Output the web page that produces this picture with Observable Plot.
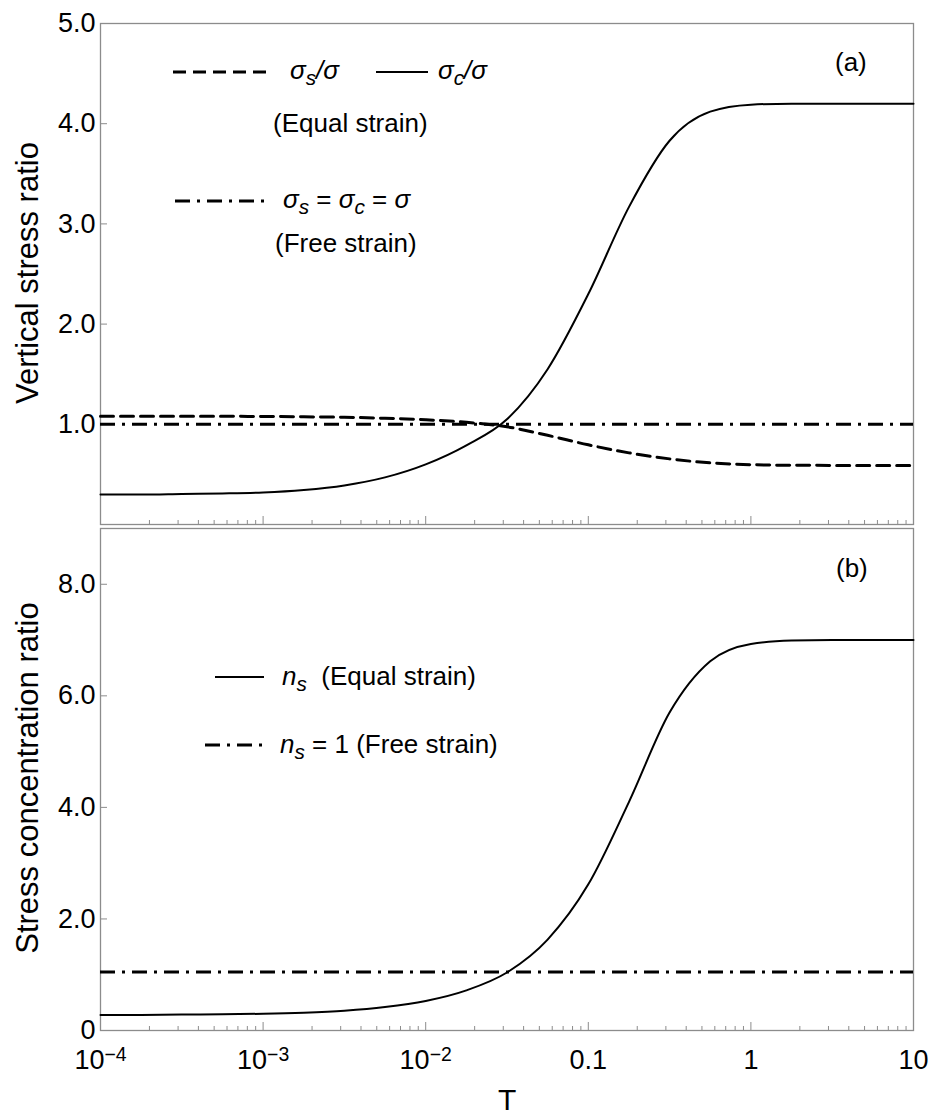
<!DOCTYPE html>
<html><head><meta charset="utf-8">
<script src="https://cdn.jsdelivr.net/npm/d3@7"></script>
<script src="https://cdn.jsdelivr.net/npm/@observablehq/plot@0.6"></script>
<style>
body{margin:0;background:#fff;font-family:"Liberation Sans",Arial,sans-serif;color:#000;}
#wrap{position:relative;width:936px;height:1115px;overflow:hidden;background:#fff;}
.panel{position:absolute;left:0;}
.txt{position:absolute;white-space:nowrap;font-size:26px;line-height:1;transform:translateY(-50%);}
.sym{font-style:italic;}
.sub{font-style:italic;font-size:0.8em;position:relative;top:0.28em;}
.ytitle{position:absolute;white-space:nowrap;font-size:31px;line-height:1;transform-origin:0 0;}
svg.legline{position:absolute;overflow:visible;}
</style></head><body><div id="wrap"></div>
<script>
// ---- data ----
const T = [0.0001, 0.000178, 0.000316, 0.000562, 0.001, 0.00178, 0.00316, 0.00562, 0.01, 0.0178, 0.0316,
           0.0562, 0.1, 0.178, 0.316, 0.562, 1, 1.78, 3.16, 5.62, 10];
// panel (a): equal strain, sigma_c / sigma
const sigmaCRatio = [0.30, 0.30, 0.305, 0.31, 0.32, 0.345, 0.39, 0.47, 0.60, 0.79, 1.05,
                     1.55, 2.30, 3.17, 3.83, 4.12, 4.19, 4.20, 4.20, 4.20, 4.20];
// panel (a): equal strain, sigma_s / sigma
const sigmaSRatio = [1.08, 1.08, 1.08, 1.08, 1.078, 1.075, 1.07, 1.06, 1.045, 1.02, 0.975,
                     0.89, 0.795, 0.715, 0.655, 0.615, 0.597, 0.591, 0.59, 0.59, 0.59];
// panel (a): free strain sigma_s = sigma_c = sigma
const freeStrainA = [1.0];
// panel (b): stress concentration ratio n_s (equal strain)
const nsEqual = [0.28, 0.28, 0.285, 0.29, 0.30, 0.32, 0.355, 0.42, 0.53, 0.72, 1.04,
                 1.63, 2.62, 4.10, 5.70, 6.62, 6.93, 6.99, 7.0, 7.0, 7.0];
// panel (b): free strain n_s = 1
const freeStrainB = [1.05];

// ticks and labels
const xMajor = [1e-4, 1e-3, 1e-2, 1e-1, 1, 10];
const xMajorLabels = ["10^−4", "10^−3", "10^−2", "0.1", "1", "10"];
const xMinor = [];
for (const d of [1e-4, 1e-3, 1e-2, 1e-1, 1]) for (let k = 2; k <= 9; k++) xMinor.push(k * d);
const yTicksA = [1, 2, 3, 4, 5];
const yTicksALabels = ["1.0", "2.0", "3.0", "4.0", "5.0"];
const yTicksB = [0, 2, 4, 6, 8];
const yTicksBLabels = ["0", "2.0", "4.0", "6.0", "8.0"];

const rowsA_c = T.map((t, i) => ({T: t, v: sigmaCRatio[i]}));
const rowsA_s = T.map((t, i) => ({T: t, v: sigmaSRatio[i]}));
const rowsB = T.map((t, i) => ({T: t, v: nsEqual[i]}));

const GRAY = "#8c8c8c";
const DASH = "13,7";
const DASHDOT = "15,7,3,7";
const FONT = "'Liberation Sans', Arial, sans-serif";

const common = {
  width: 936,
  marginLeft: 100,
  marginRight: 23,
  x: {type: "log", domain: [1e-4, 10], label: null},
  style: {background: "transparent", fontFamily: FONT, fontSize: "27px", color: "#000", overflow: "visible"}
};

const wrap = document.getElementById("wrap");

const pa = Plot.plot({
  ...common,
  height: 528, marginTop: 23, marginBottom: 4,
  y: {domain: [0, 5], label: null},
  marks: [
    Plot.frame({stroke: GRAY, strokeWidth: 1.3}),
    Plot.axisY({ticks: yTicksA, tickSize: -7, stroke: GRAY, tickFormat: () => "", label: null}),
    Plot.axisY({ticks: yTicksA, tickSize: 0, tickPadding: 5, tickFormat: (d) => yTicksALabels[yTicksA.indexOf(d)], fontSize: 27, label: null}),
    Plot.axisX({ticks: xMajor, tickSize: -8, stroke: GRAY, tickFormat: () => "", label: null}),
    Plot.axisX({ticks: xMinor, tickSize: -4, stroke: GRAY, tickFormat: () => "", label: null}),
    Plot.ruleY(freeStrainA, {stroke: "#000", strokeWidth: 3, strokeDasharray: DASHDOT}),
    Plot.line(rowsA_s, {x: "T", y: "v", stroke: "#000", strokeWidth: 3, strokeDasharray: DASH, curve: "monotone-x"}),
    Plot.line(rowsA_c, {x: "T", y: "v", stroke: "#000", strokeWidth: 2, curve: "monotone-x"})
  ]
});
pa.classList.add("panel");
pa.style.top = "0px";
wrap.appendChild(pa);

const pb = Plot.plot({
  ...common,
  height: 591, marginTop: 4, marginBottom: 85,
  y: {domain: [0, 9], label: null},
  marks: [
    Plot.frame({stroke: GRAY, strokeWidth: 1.3}),
    Plot.axisY({ticks: yTicksB, tickSize: -7, stroke: GRAY, tickFormat: () => "", label: null}),
    Plot.axisY({ticks: yTicksB, tickSize: 0, tickPadding: 5, tickFormat: (d) => yTicksBLabels[yTicksB.indexOf(d)], fontSize: 27, label: null}),
    Plot.axisX({ticks: xMajor, tickSize: -8, stroke: GRAY, tickFormat: () => "", label: null}),
    Plot.axisX({ticks: xMinor, tickSize: -4, stroke: GRAY, tickFormat: () => "", label: null}),
    Plot.axisX({ticks: xMajor, tickSize: 0, tickPadding: 19, tickFormat: (d) => xMajorLabels[xMajor.indexOf(d)], fontSize: 27, label: null}),
    Plot.ruleY(freeStrainB, {stroke: "#000", strokeWidth: 3, strokeDasharray: DASHDOT}),
    Plot.line(rowsB, {x: "T", y: "v", stroke: "#000", strokeWidth: 2, curve: "monotone-x"})
  ]
});
pb.classList.add("panel");
pb.style.top = "524px";
wrap.appendChild(pb);

// superscripts for power-of-ten labels
pb.querySelectorAll("text").forEach((t) => {
  const s = t.textContent;
  const m = /^10\^(.+)$/.exec(s);
  if (m) {
    t.textContent = "10";
    const ts = document.createElementNS("http://www.w3.org/2000/svg", "tspan");
    ts.setAttribute("dy", "-0.38em");
    ts.setAttribute("font-size", "0.72em");
    ts.textContent = m[1];
    t.appendChild(ts);
  }
});

// ---- legends, titles (HTML overlays) ----
function text(html, left, top, cls = "txt", extra = "") {
  const d = document.createElement("div");
  d.className = cls;
  d.style.left = left + "px";
  d.style.top = top + "px";
  if (extra) d.style.cssText += extra;
  d.innerHTML = html;
  wrap.appendChild(d);
  return d;
}
function sample(x1, x2, y, dash, w) {
  const ns = "http://www.w3.org/2000/svg";
  const s = document.createElementNS(ns, "svg");
  s.setAttribute("class", "legline");
  s.setAttribute("width", x2 - x1);
  s.setAttribute("height", 6);
  s.style.left = x1 + "px";
  s.style.top = (y - 3) + "px";
  const l = document.createElementNS(ns, "line");
  l.setAttribute("x1", 0); l.setAttribute("x2", x2 - x1);
  l.setAttribute("y1", 3); l.setAttribute("y2", 3);
  l.setAttribute("stroke", "#000");
  l.setAttribute("stroke-width", w);
  if (dash) l.setAttribute("stroke-dasharray", dash);
  s.appendChild(l);
  wrap.appendChild(s);
}

// panel (a) legend
sample(173, 268, 72, DASH, 3);
text('<span class="sym">σ</span><span class="sub">s</span><span class="sym">/σ</span>', 290, 70);
sample(376, 428, 72, null, 2);
text('<span class="sym">σ</span><span class="sub">c</span><span class="sym">/σ</span>', 438, 70);
text('(Equal strain)', 273, 123);
sample(175, 268, 201, DASHDOT, 3);
text('<span class="sym">σ</span><span class="sub">s</span> = <span class="sym">σ</span><span class="sub">c</span> = <span class="sym">σ</span>', 283, 199);
text('(Free strain)', 275, 243);
text('(a)', 835, 62);

// panel (b) legend
sample(215, 264, 677, null, 2);
text('<span class="sym">n</span><span class="sub">s</span>&nbsp; (Equal strain)', 282, 676);
sample(205, 263, 745, DASHDOT, 3);
text('<span class="sym">n</span><span class="sub">s</span> = 1 (Free strain)', 280, 744);
text('(b)', 836, 568);

// axis titles
const ya = text('Vertical stress ratio', 12, 273, "ytitle");
ya.style.transform = "rotate(-90deg) translate(-50%, 0)";
const yb = text('Stress concentration ratio', 12, 778, "ytitle");
yb.style.transform = "rotate(-90deg) translate(-50%, 0)";
text('T', 498, 1100, "txt", "font-size:30px;");
</script>
</body></html>
